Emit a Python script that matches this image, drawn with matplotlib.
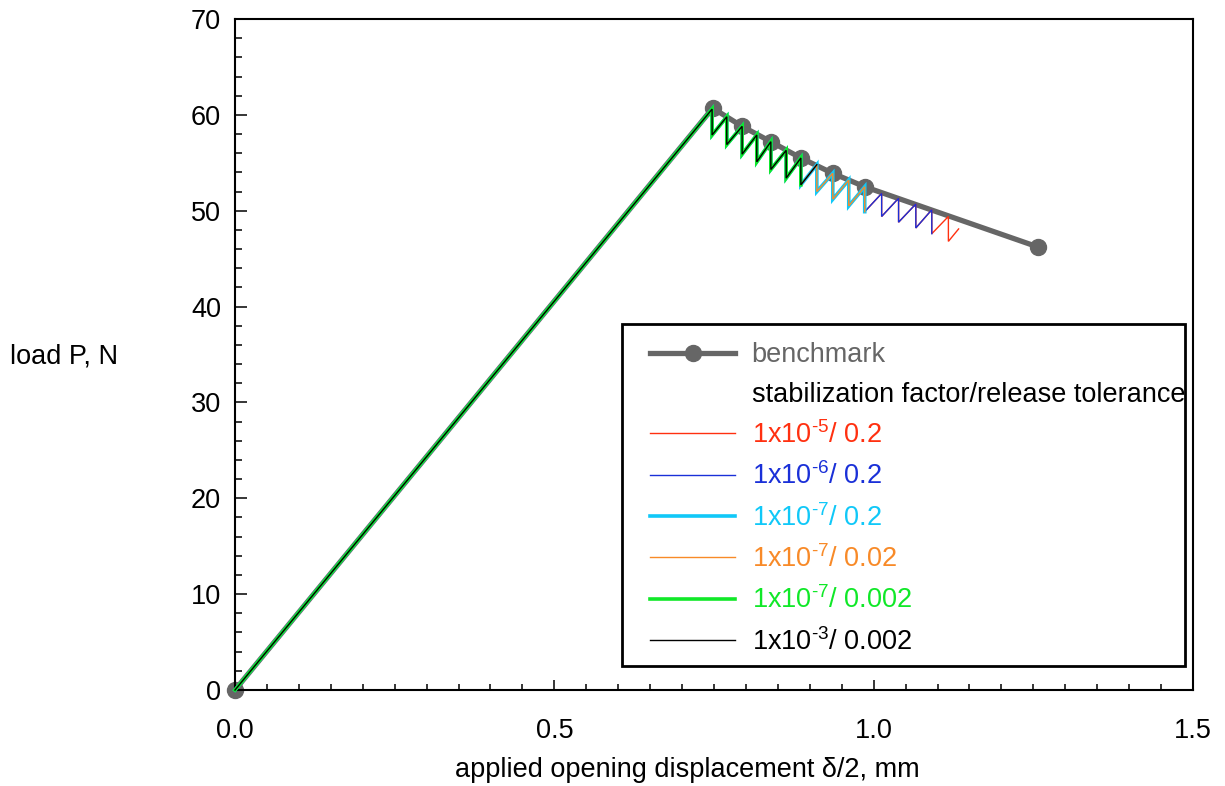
import matplotlib
matplotlib.use("Agg")
import matplotlib.pyplot as plt
from matplotlib.lines import Line2D
from matplotlib.patches import Rectangle
from matplotlib.ticker import MultipleLocator, FormatStrFormatter

plt.rcParams['font.family'] = ['Liberation Sans', 'DejaVu Sans']
plt.rcParams['mathtext.fontset'] = 'custom'
plt.rcParams['mathtext.rm'] = 'Liberation Sans'
plt.rcParams['mathtext.it'] = 'Liberation Sans:italic'

# ---- data ----
bench_x = [0.0, 0.748, 0.794, 0.839, 0.886, 0.936, 0.986, 1.258]
bench_y = [0.0, 60.7, 58.8, 57.2, 55.5, 53.9, 52.5, 46.2]

# sawtooth vertices (shared by the stabilized runs)
tooth_x = [0.747, 0.770, 0.794, 0.817, 0.839, 0.863, 0.886, 0.911,
           0.936, 0.961, 0.986, 1.0125, 1.039, 1.066, 1.091, 1.117]
tooth_top = [60.6, 59.8, 58.8, 57.9, 57.2, 56.3, 55.5, 54.8,
             53.9, 53.2, 52.5, 51.8, 51.3, 50.7, 50.1, 49.4]
tooth_bot = [57.9, 56.9, 55.9, 55.1, 54.3, 53.4, 52.7, 52.0,
             51.2, 50.5, 49.9, 49.4, 48.8, 48.2, 47.6, 46.8]

labels = [r"1x10$^{\text{-5}}$/ 0.2", r"1x10$^{\text{-6}}$/ 0.2",
          r"1x10$^{\text{-7}}$/ 0.2", r"1x10$^{\text{-7}}$/ 0.02",
          r"1x10$^{\text{-7}}$/ 0.002", r"1x10$^{\text{-3}}$/ 0.002"]
colors = ["#ff3010", "#1a30d8", "#10c8f8", "#f88a28", "#10e828", "#000000"]
widths = [1.0, 1.0, 2.6, 1.0, 2.6, 1.0]
# last tooth index reached and whether the run ends on the tooth top or bottom
end_tooth = [15, 14, 10, 10, 6, 7]
end_on = ["bot", "bot", "bot", "bot", "bot", "top"]
# final partial reload point (only the 1e-5 run)
red_tail_x = [1.133]
red_tail_y = [48.1]
tails = [(red_tail_x, red_tail_y), None, None, None, None, None]


def build_path(k, where, tail):
    xs = [0.0]
    ys = [0.0]
    for i in range(k + 1):
        xs.append(tooth_x[i]); ys.append(tooth_top[i])
        if i < k or where == "bot":
            xs.append(tooth_x[i]); ys.append(tooth_bot[i])
    if tail is not None:
        xs += tail[0]; ys += tail[1]
    return xs, ys


W, H = 1225, 786
fig = plt.figure(figsize=(W / 100, H / 100), dpi=100)
ax = fig.add_axes([235 / W, 96 / H, 958 / W, 671 / H])

handles = []
bh, = ax.plot(bench_x, bench_y, color="#666666", lw=3.8, marker="o",
              ms=11.5, zorder=2, label="benchmark")
for lab, c, w, k, wh, t in zip(labels, colors, widths, end_tooth, end_on, tails):
    xs, ys = build_path(k, wh, t)
    h, = ax.plot(xs, ys, color=c, lw=w, zorder=3, label=lab,
                 solid_joinstyle="miter")
    handles.append(h)

ax.set_xlim(0, 1.5)
ax.set_ylim(0, 70)
ax.xaxis.set_major_locator(MultipleLocator(0.5))
ax.xaxis.set_minor_locator(MultipleLocator(0.05))
ax.yaxis.set_major_locator(MultipleLocator(10))
ax.yaxis.set_minor_locator(MultipleLocator(2))
ax.xaxis.set_major_formatter(FormatStrFormatter("%.1f"))
for s in ax.spines.values():
    s.set_linewidth(1.5)
ax.tick_params(axis="both", which="both", direction="in", width=1.1,
               top=False, right=False, labelsize=19.5)
ax.tick_params(axis="x", which="major", length=7, pad=20)
ax.tick_params(axis="x", which="minor", length=4)
ax.tick_params(axis="y", which="major", length=8.5, pad=10)
ax.tick_params(axis="y", which="minor", length=5)
for h in [bh] + handles:
    h.set_clip_on(False)

fig.text(10 / W, 1 - 357 / H, "load P, N", fontsize=19.5, ha="left", va="center")
fig.text(687 / W, 1 - 770 / H, "applied opening displacement \u03b4/2, mm",
         fontsize=19.5, ha="center", va="center")

# legend box drawn as a plain rectangle, entries without frame
box = Rectangle((622 / W, 1 - 666 / H), (1185 - 622) / W, (666 - 324) / H,
                transform=fig.transFigure, facecolor="white", edgecolor="black",
                lw=2.0, zorder=5)
fig.patches.append(box)

header = Line2D([], [], color="none")
leg_handles = [bh, header] + handles
leg_labels = ["benchmark", "stabilization factor/release tolerance"] + labels
leg = fig.legend(leg_handles, leg_labels, loc="upper left",
                 bbox_to_anchor=(650 / W, 1 - 342 / H),
                 fontsize=19.5, frameon=False, handlelength=3.15,
                 handletextpad=0.6, labelspacing=0.5, borderpad=0,
                 borderaxespad=0,
                 labelcolor=["#666666", "black"] + colors)
leg.set_zorder(6)

fig.savefig("out.png", dpi=100)
